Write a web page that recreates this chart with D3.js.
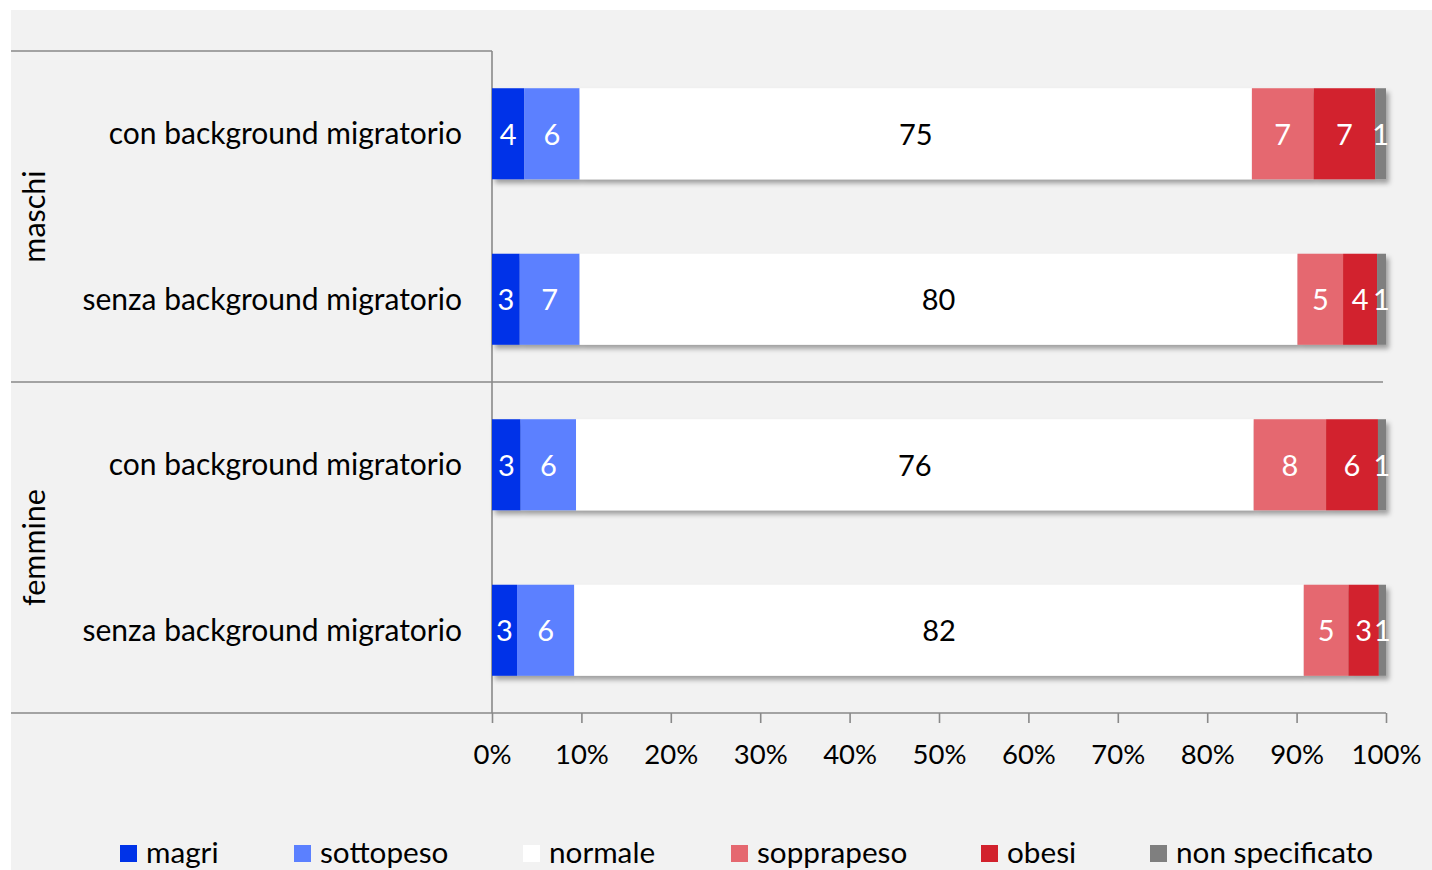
<!DOCTYPE html>
<html>
<head>
<meta charset="utf-8">
<script src="https://cdn.jsdelivr.net/npm/d3@7/dist/d3.min.js"></script>
<style>
  html, body { margin: 0; padding: 0; background: #ffffff; }
  svg { display: block; }
  text { font-family: Lato, "Open Sans", sans-serif; }
</style>
</head>
<body>
<svg id="chart" width="1432" height="870"></svg>
<script>
// ---- data ----
const groups = ["maschi", "femmine"];
const categories = ["con background migratorio", "senza background migratorio"];
const rowGroups = ["maschi", "maschi", "femmine", "femmine"];
const rowCategories = ["con background migratorio", "senza background migratorio", "con background migratorio", "senza background migratorio"];
const seriesNames = ["magri", "sottopeso", "normale", "sopprapeso", "obesi", "non specificato"];
const seriesColors = ["#0033e8", "#5b80ff", "#ffffff", "#e56870", "#d2222d", "#7f7f7f"];
const labelColors = ["#ffffff", "#ffffff", "#000000", "#ffffff", "#ffffff", "#ffffff"];
const magri        = [3.6, 3.1, 3.2, 2.8];
const sottopeso    = [6.2, 6.7, 6.2, 6.4];
const normale      = [75.2, 80.3, 75.8, 81.6];
const sovrappeso   = [6.9, 5.1, 8.1, 5.0];
const obesi        = [6.9, 3.8, 5.8, 3.4];
const nonSpec      = [1.2, 1.0, 0.9, 0.8];
const xTicks = [0, 10, 20, 30, 40, 50, 60, 70, 80, 90, 100];

const seriesValues = [magri, sottopeso, normale, sovrappeso, obesi, nonSpec];
const rows = rowCategories.map((c, i) => {
  const obj = { id: i, group: rowGroups[i], category: c };
  seriesNames.forEach((s, j) => obj[s] = seriesValues[j][i]);
  return obj;
});

// ---- layout ----
const svg = d3.select("#chart");
const W = 1432, H = 870;
const plot = { left: 492, right: 1386, top: 51, bottom: 713 };
const lineColor = "#898989";

svg.append("rect").attr("x", 11).attr("y", 10).attr("width", W - 11).attr("height", H - 10).attr("fill", "#f2f2f2");

const defs = svg.append("defs");
const f = defs.append("filter").attr("id", "shadow").attr("x", "-5%").attr("y", "-20%").attr("width", "110%").attr("height", "150%");
f.append("feDropShadow").attr("dx", 3).attr("dy", 4).attr("stdDeviation", 2.5)
  .attr("flood-color", "#000").attr("flood-opacity", 0.35);

const x = d3.scaleLinear().domain([0, 100]).range([plot.left, plot.right]);
const y = d3.scaleBand().domain(rows.map(r => r.id)).range([plot.top, plot.bottom]).paddingInner(0.45).paddingOuter(0.225);

const stack = d3.stack().keys(seriesNames);
const stacked = stack(rows);

// frame lines
const lines = svg.append("g").attr("stroke", lineColor).attr("stroke-width", 1.6);
lines.append("line").attr("x1", 11).attr("x2", plot.left).attr("y1", plot.top).attr("y2", plot.top);
const midY = plot.top + (plot.bottom - plot.top) / 2;
lines.append("line").attr("x1", 11).attr("x2", 1383).attr("y1", midY).attr("y2", midY);
lines.append("line").attr("x1", 11).attr("x2", plot.right).attr("y1", plot.bottom).attr("y2", plot.bottom);
lines.append("line").attr("x1", plot.left).attr("x2", plot.left).attr("y1", plot.top).attr("y2", plot.bottom);

// bars
const barG = svg.append("g");
rows.forEach((r, i) => {
  const g = barG.append("g").attr("filter", "url(#shadow)");
  stacked.forEach((layer, j) => {
    const d = layer[i];
    g.append("rect")
      .attr("x", x(d[0])).attr("y", y(r.id))
      .attr("width", x(d[1]) - x(d[0])).attr("height", y.bandwidth())
      .attr("fill", seriesColors[j]);
  });
});

// labels
const lblG = svg.append("g").attr("font-size", 29).attr("text-anchor", "middle");
rows.forEach((r, i) => {
  stacked.forEach((layer, j) => {
    const d = layer[i];
    lblG.append("text")
      .attr("x", (x(d[0]) + x(d[1])) / 2)
      .attr("y", y(r.id) + y.bandwidth() / 2 + 1)
      .attr("dy", "0.35em")
      .attr("fill", labelColors[j])
      .text(Math.round(d[1] - d[0]));
  });
});

// category labels
svg.append("g").attr("font-size", 30).attr("text-anchor", "end")
  .selectAll("text").data(rows).join("text")
  .attr("x", 462).attr("y", d => y(d.id) + y.bandwidth() / 2).attr("dy", "0.35em")
  .attr("fill", "#000").text(d => d.category);

// group labels
groups.forEach((g, k) => {
  const ids = rows.filter(r => r.group === g).map(r => r.id);
  const cy = (y(ids[0]) + y(ids[ids.length - 1]) + y.bandwidth()) / 2;
  svg.append("text").attr("font-size", 30.5).attr("text-anchor", "middle")
    .attr("transform", `translate(34,${cy}) rotate(-90)`).attr("dy", "0.35em")
    .attr("fill", "#000").text(g);
});

// x axis
const axis = d3.axisBottom(x).tickValues(xTicks).tickFormat(d => d + "%").tickSize(10).tickSizeOuter(0).tickPadding(21);
const ax = svg.append("g").attr("transform", `translate(0,${plot.bottom})`).call(axis);
ax.select(".domain").remove();
ax.selectAll(".tick line").attr("stroke", lineColor).attr("stroke-width", 1.6);
ax.selectAll(".tick text").attr("font-size", 27.5).attr("fill", "#000").attr("font-family", "Lato, 'Open Sans', sans-serif");

// legend
const legendX = [120, 294, 523, 731, 981, 1150];
const leg = svg.append("g");
seriesNames.forEach((s, j) => {
  leg.append("rect").attr("x", legendX[j]).attr("y", 845).attr("width", 17).attr("height", 17).attr("fill", seriesColors[j]);
  leg.append("text").attr("x", legendX[j] + 26).attr("y", 853).attr("dy", "0.35em")
    .attr("font-size", 29.7).attr("fill", "#000").text(s);
});
</script>
</body>
</html>
